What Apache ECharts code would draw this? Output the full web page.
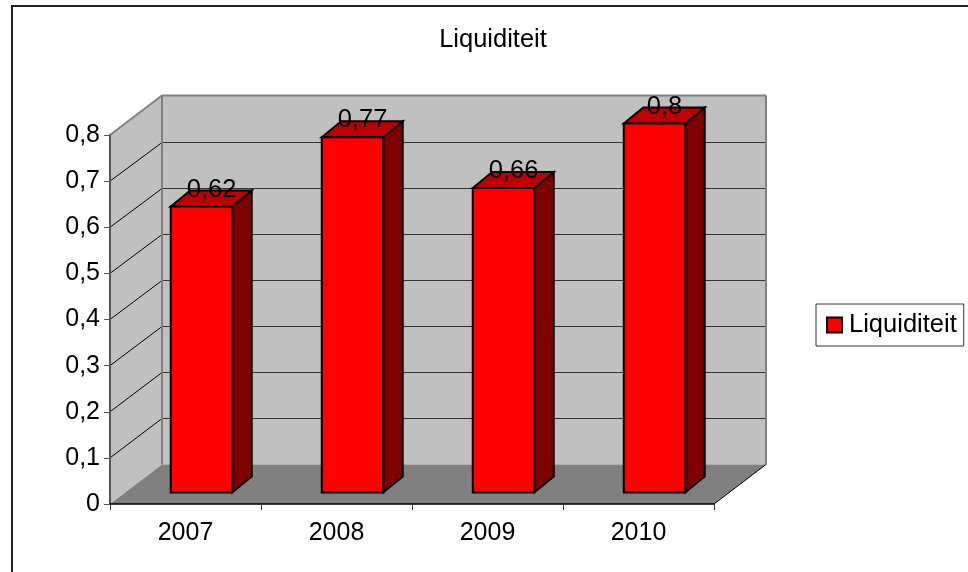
<!DOCTYPE html>
<html>
<head>
<meta charset="utf-8">
<title>Liquiditeit</title>
<script src="https://cdn.jsdelivr.net/npm/echarts@6/dist/echarts.min.js"></script>
<style>
  html, body { margin: 0; padding: 0; background: #fff; }
  #chart { width: 968px; height: 572px; }
</style>
</head>
<body>
<div id="chart"></div>
<script>
var categories = ['2007', '2008', '2009', '2010'];
var values = [0.62, 0.77, 0.66, 0.8];
var yTicks = [0, 0.1, 0.2, 0.3, 0.4, 0.5, 0.6, 0.7, 0.8];

// depth of the fake 3d box, in pixels
var wallDx = 52, wallDy = -39.5;
var barShiftX = 16, barShiftY = -11.5;
var barDx = 19.5, barDy = -16;
var barWidth = 61.5;

var font = '"Liberation Sans", Arial, sans-serif';

function comma(v) {
  return String(v).replace('.', ',');
}

function line(x1, y1, x2, y2, color, width) {
  return {
    type: 'line',
    shape: {x1: x1, y1: y1, x2: x2, y2: y2},
    style: {stroke: color, lineWidth: width}
  };
}

function poly(points, fill, stroke, width) {
  return {
    type: 'polygon',
    shape: {points: points},
    style: {fill: fill, stroke: stroke || null, lineWidth: width || 0, lineJoin: 'miter'}
  };
}

// walls and floor, drawn once behind the bars
function renderWalls(params, api) {
  var start = api.coord([0, 0]);
  var left = start[0] - api.size([1, 0])[0] / 2;
  var right = left + api.size([1, 0])[0] * categories.length;
  var bottom = start[1];
  var top = api.coord([0, yTicks[yTicks.length - 1]])[1];
  var kids = [];

  kids.push(poly([[left + wallDx, top + wallDy], [right + wallDx, top + wallDy],
    [right + wallDx, bottom + wallDy], [left + wallDx, bottom + wallDy]], '#c0c0c0'));
  kids.push(poly([[left, top], [left + wallDx, top + wallDy],
    [left + wallDx, bottom + wallDy], [left, bottom]], '#c0c0c0'));
  kids.push(poly([[left, bottom], [left + wallDx, bottom + wallDy],
    [right + wallDx, bottom + wallDy], [right, bottom]], '#808080'));

  yTicks.forEach(function (t, i) {
    if (i === 0 || i === yTicks.length - 1) return;
    var y = api.coord([0, t])[1];
    var backY = Math.round(y + wallDy) + 0.5;
    kids.push(line(left, y, left + wallDx, backY, '#000', 1));
    kids.push(line(left + wallDx, backY, right + wallDx, backY, '#333', 1));
  });

  kids.push(line(left, top, left + wallDx, top + wallDy, '#808080', 2));
  kids.push(line(left + wallDx, top + wallDy, right + wallDx, top + wallDy, '#808080', 2));
  kids.push(line(left + wallDx, top + wallDy, left + wallDx, bottom + wallDy, '#808080', 2));
  kids.push(line(right + wallDx, top + wallDy, right + wallDx, bottom + wallDy, '#808080', 2));
  kids.push(line(right, bottom, right + wallDx, bottom + wallDy, '#000', 1));

  return {type: 'group', children: kids};
}

function renderBar(params, api) {
  var topPt = api.coord([api.value(0), api.value(1)]);
  var basePt = api.coord([api.value(0), 0]);
  var x1 = topPt[0] + barShiftX - barWidth / 2;
  var x2 = x1 + barWidth;
  var y1 = topPt[1] + barShiftY;
  var y2 = basePt[1] + barShiftY;

  return {
    type: 'group',
    children: [
      poly([[x2, y1], [x2 + barDx, y1 + barDy], [x2 + barDx, y2 + barDy], [x2, y2]], '#7f0000', '#000', 2),
      poly([[x1, y1], [x1 + barDx, y1 + barDy], [x2 + barDx, y1 + barDy], [x2, y1]], '#bf0000', '#000', 2),
      poly([[x1, y1], [x2, y1], [x2, y2], [x1, y2]], '#ff0000', '#000', 2),
      {
        type: 'text',
        style: {
          text: comma(api.value(1)),
          x: (x1 + x2) / 2 + 10,
          y: y1 - 17,
          align: 'center',
          verticalAlign: 'middle',
          fill: '#000',
          font: '25.5px ' + font
        }
      }
    ]
  };
}

var myChart = echarts.init(document.getElementById('chart'));
myChart.setOption({
  animation: false,
  backgroundColor: '#fff',
  title: {
    text: 'Liquiditeit',
    left: 488,
    top: 22,
    textAlign: 'center',
    textStyle: {fontFamily: font, fontSize: 25.5, fontWeight: 'normal', color: '#000'}
  },
  legend: {
    data: ['Liquiditeit'],
    left: 816,
    top: 304,
    padding: [8, 7, 8, 10],
    borderColor: '#333',
    borderWidth: 1,
    itemWidth: 15,
    itemHeight: 15,
    itemGap: 0,
    icon: 'rect',
    textStyle: {fontFamily: font, fontSize: 25.5, color: '#000', padding: [1, 0, 0, 2]}
  },
  grid: {left: 110, top: 135, width: 604, height: 369},
  xAxis: {
    type: 'category',
    data: categories,
    z: 5,
    axisLine: {lineStyle: {color: '#000', width: 1.5}},
    axisTick: {show: true, alignWithLabel: false, length: 6, lineStyle: {color: '#333'}},
    axisLabel: {fontFamily: font, fontSize: 25, color: '#000', margin: 17}
  },
  yAxis: {
    type: 'value',
    min: 0,
    max: 0.8,
    interval: 0.1,
    z: 5,
    splitLine: {show: false},
    axisLine: {show: true, lineStyle: {color: '#555', width: 2}},
    axisTick: {show: true, length: 6, lineStyle: {color: '#555'}},
    axisLabel: {fontFamily: font, fontSize: 25, color: '#000', margin: 10, formatter: comma}
  },
  graphic: [{
    type: 'rect',
    z: -1,
    silent: true,
    shape: {x: 12, y: 6, width: 1100, height: 800},
    style: {fill: 'none', stroke: '#222', lineWidth: 2}
  }],
  series: [
    {
      name: 'walls',
      type: 'custom',
      renderItem: renderWalls,
      data: [[0, 0]],
      z: 1,
      silent: true
    },
    {
      name: 'Liquiditeit',
      type: 'custom',
      renderItem: renderBar,
      itemStyle: {color: '#ff0000', borderColor: '#000', borderWidth: 2},
      data: values.map(function (v, i) { return [i, v]; }),
      encode: {x: 0, y: 1},
      z: 3
    }
  ]
});
</script>
</body>
</html>
